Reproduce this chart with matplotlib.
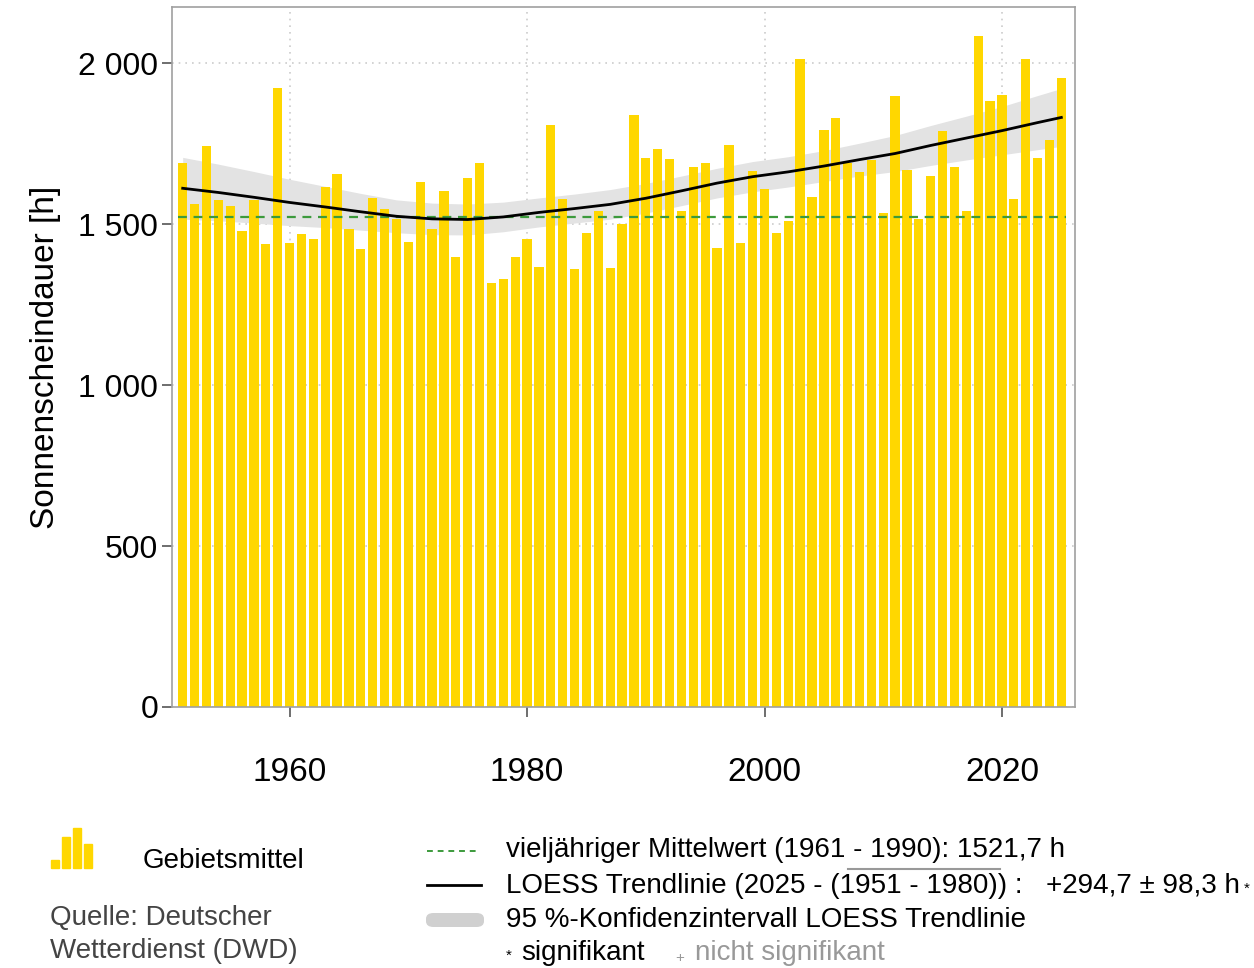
import matplotlib
matplotlib.use("Agg")
import matplotlib.pyplot as plt
from matplotlib.patches import Rectangle, FancyBboxPatch
from matplotlib.lines import Line2D
from matplotlib.ticker import FuncFormatter

plt.rcParams['font.family'] = ['Liberation Sans', 'DejaVu Sans']

# jaehrliche Sonnenscheindauer, Gebietsmittel Deutschland [h]
years = list(range(1951, 2026))
sunshine = [1688, 1561, 1742, 1575, 1557, 1479, 1575, 1438, 1921, 1442,
            1469, 1455, 1616, 1654, 1485, 1421, 1582, 1548, 1515, 1445,
            1629, 1483, 1602, 1398, 1643, 1688, 1316, 1329, 1398, 1452,
            1366, 1806, 1578, 1360, 1473, 1540, 1364, 1500, 1839, 1705,
            1732, 1701, 1540, 1678, 1688, 1424, 1745, 1442, 1665, 1609,
            1473, 1510, 2012, 1585, 1791, 1828, 1688, 1661, 1699, 1533,
            1897, 1667, 1517, 1650, 1788, 1677, 1540, 2085, 1883, 1901,
            1578, 2012, 1706, 1761, 1954]

mean_1961_1990 = 1521.7

# LOESS trend and half width of the 95% band
trend_years = [1951, 1954, 1957, 1960, 1963, 1966, 1969, 1972, 1975, 1978,
               1981, 1984, 1987, 1990, 1993, 1996, 1999, 2002, 2005, 2008,
               2011, 2014, 2017, 2020, 2023, 2025]
trend = [1611, 1598, 1583, 1567, 1553, 1538, 1524, 1516, 1514, 1522,
         1536, 1548, 1561, 1580, 1603, 1627, 1647, 1662, 1680, 1700,
         1719, 1744, 1767, 1790, 1815, 1831]
ci_half = [96, 88, 80, 72, 64, 57, 51, 49, 48, 46,
           45, 45, 46, 46, 46, 46, 47, 47, 48, 51,
           56, 62, 68, 75, 84, 90]

W, H = 1254, 968
fig = plt.figure(figsize=(W / 100, H / 100), dpi=100)
ax = fig.add_axes([172 / W, 1 - 707 / H, (1075 - 172) / W, 700 / H])

bar_color = '#FFD700'
lower = [t - c for t, c in zip(trend, ci_half)]
upper = [t + c for t, c in zip(trend, ci_half)]
# band sits behind the bars, lines on top
ax.fill_between(trend_years, lower, upper, color='#e3e3e3', lw=0, zorder=1)
ax.bar(years, sunshine, width=0.78, color=bar_color, zorder=2)
ax.hlines(mean_1961_1990, 1950.6, 2025.4, colors='#3c9a3c', linestyles=(0, (4, 3)),
          lw=1.6, zorder=4)
ax.plot(trend_years, trend, color='black', lw=2, zorder=5)

ax.set_xlim(1950.1, 2026.15)
ax.set_ylim(0, 2174)
ax.set_xticks([1960, 1980, 2000, 2020])
ax.set_yticks([0, 500, 1000, 1500, 2000])
ax.yaxis.set_major_formatter(FuncFormatter(lambda v, p: f"{int(v):,}".replace(",", " ")))
ax.grid(True, color='#cccccc', linestyle=(0, (1, 3)), lw=1.2, zorder=0)
ax.set_axisbelow(True)
for s in ax.spines.values():
    s.set_color('#a0a0a0')
    s.set_linewidth(1.2)
ax.tick_params(axis='y', length=7, width=1.2, color='#555555', labelsize=23, pad=3)
ax.tick_params(axis='x', length=7, width=1.2, color='#555555', labelsize=24, pad=29)
ax.set_ylabel('Sonnenscheindauer [h]', fontsize=24, labelpad=12)


def fx(px):
    return px / W


def fy(py):
    return 1 - py / H


# legend / footer
fs = 20
icon_h = [0.2, 0.78, 1.0, 0.6]
for i, h in enumerate(icon_h):
    fig.add_artist(Rectangle((fx(51 + i * 11), fy(868)), 8 / W, h * 40 / H,
                             transform=fig.transFigure, color=bar_color))
fig.text(fx(143), fy(861), 'Gebietsmittel', fontsize=fs, va='center')
fig.text(fx(50), fy(918), 'Quelle: Deutscher', fontsize=fs, va='center', color='#444444')
fig.text(fx(50), fy(951), 'Wetterdienst (DWD)', fontsize=fs, va='center', color='#444444')

fig.add_artist(Line2D([fx(427), fx(476)], [fy(851), fy(851)], transform=fig.transFigure,
                      color='#3c9a3c', lw=1.4, linestyle=(0, (3, 2.5))))
fig.text(fx(506), fy(850), 'vieljähriger Mittelwert (1961 - 1990): 1521,7 h',
         fontsize=fs, va='center')

fig.add_artist(Line2D([fx(427), fx(481)], [fy(885), fy(885)], transform=fig.transFigure,
                      color='black', lw=2))
fig.text(fx(506), fy(886), 'LOESS Trendlinie (2025 - (1951 - 1980)) :', fontsize=fs, va='center')
fig.add_artist(Line2D([fx(848), fx(1000)], [fy(869), fy(869)], transform=fig.transFigure,
                      color='#999999', lw=1.5))
fig.text(fx(1046), fy(886), '+294,7 ± 98,3 h', fontsize=fs, va='center')
fig.text(fx(1244), fy(889), '*', fontsize=11, va='center')

fig.add_artist(FancyBboxPatch((fx(426), fy(927)), 58 / W, 14 / H,
                              boxstyle='round,pad=0,rounding_size=0.006',
                              transform=fig.transFigure, color='#d0d0d0', lw=0))
fig.text(fx(506), fy(920), '95 %-Konfidenzintervall LOESS Trendlinie', fontsize=fs, va='center')

fig.text(fx(506), fy(956), '*', fontsize=11, va='center')
fig.text(fx(521), fy(953), 'signifikant', fontsize=fs, va='center')
fig.text(fx(675), fy(958), '+', fontsize=11, va='center', color='#999999')
fig.text(fx(695), fy(953), 'nicht signifikant', fontsize=fs, va='center', color='#999999')

fig.savefig('out.png', dpi=100)
